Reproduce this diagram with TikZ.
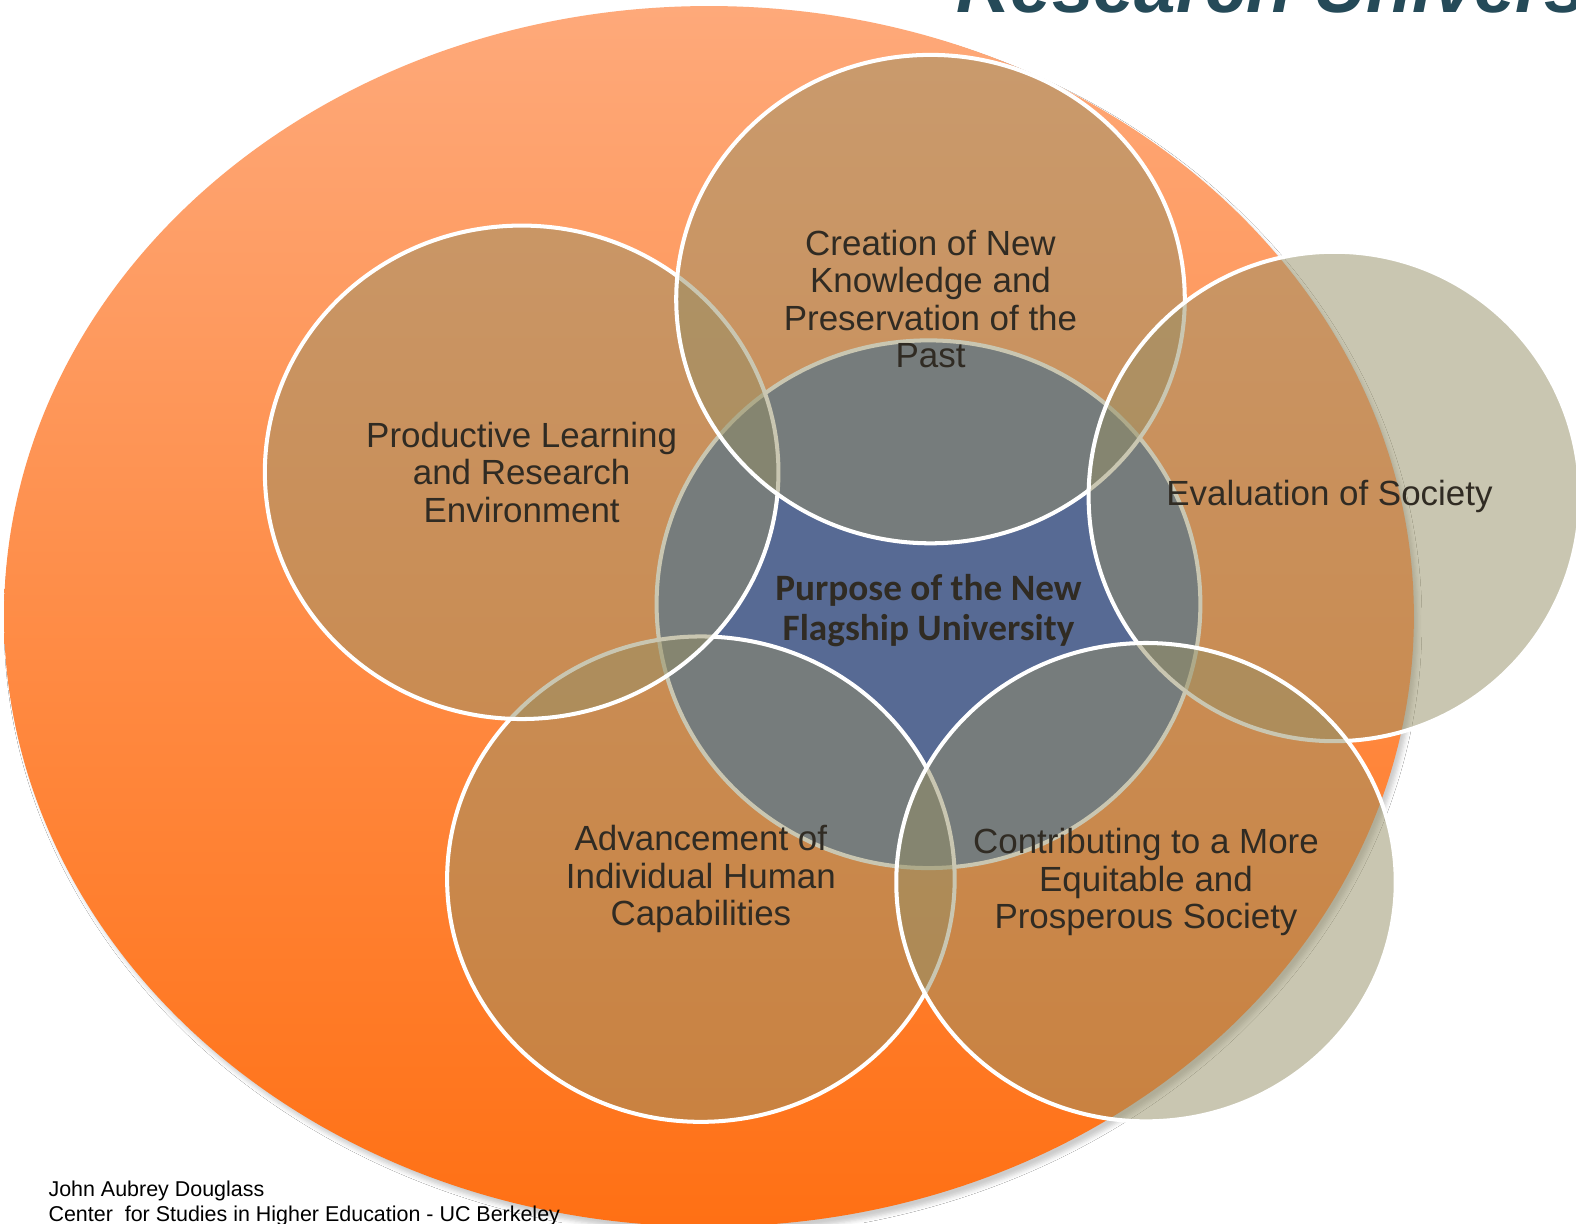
\documentclass[tikz,border=0pt]{standalone}
\usepackage{fontspec}
\setmainfont{Liberation Sans}
\newfontfamily\hubfont{Carlito}
\usepackage{xcolor}
\definecolor{orange-300}{RGB}{254,169,122}
\definecolor{orange-600}{RGB}{255,112,20}
\definecolor{tan-700}{RGB}{149,143,101}
\definecolor{blue-700}{RGB}{87,106,148}
\definecolor{ink-900}{RGB}{48,43,35}
\definecolor{teal-900}{RGB}{37,74,88}
\usetikzlibrary{shapes.geometric,shadows.blur}

\begin{document}
\begin{tikzpicture}[
    x=1bp, y=-1bp,
    backdrop/.style={
        ellipse,
        inner sep=0pt,
        top color=orange-300,
        bottom color=orange-600,
        blur shadow={shadow xshift=4bp, shadow yshift=-6bp, shadow blur radius=4bp, shadow opacity=20}
    },
    hub/.style={
        ellipse,
        draw=white,
        line width=4bp,
        fill=blue-700,
        inner sep=0pt,
        minimum width=540bp,
        minimum height=524bp
    },
    hub text/.style={
        font=\hubfont\bfseries\fontsize{37bp}{40bp}\selectfont,
        text=ink-900,
        align=center
    },
    petal/.style={
        ellipse,
        draw=white,
        line width=4bp,
        fill=tan-700,
        fill opacity=0.5,
        text opacity=1,
        inner sep=0pt,
        minimum width=504bp,
        minimum height=486bp,
        font=\fontsize{34.7bp}{37bp}\selectfont,
        text=ink-900,
        align=center
    },
    credit text/.style={font=\fontsize{21.3bp}{25bp}\selectfont, text=black, align=left, inner sep=0pt}
]
\useasboundingbox (0,0) rectangle (1565,1214.5);
\fill[white] (0,0) rectangle (1565,1214.5);

% === BACKGROUND ELLIPSE ===
\node[backdrop, minimum width=1400bp, minimum height=1212bp] (field) at (704,612) {};

% === TITLE (cut by the page edge) ===
\node[anchor=base west, inner sep=0pt, font=\bfseries\itshape\fontsize{74bp}{74bp}\selectfont, text=teal-900] (title) at (950,12) {Research Univers};

% === CENTRE ===
\node[hub] (purpose) at (922,600) {};
\node[hub text] (purpose text) at (922,606) {
    Purpose of the New\\
    Flagship University
};

% === PETALS, clockwise from bottom left ===
\node[petal, minimum width=504bp, minimum height=482bp] (capa) at (696,873) {
    Advancement of\\Individual Human\\Capabilities
};

\node[petal, minimum width=510bp, minimum height=490bp] (learn) at (518,469) {
    Productive Learning\\and Research\\Environment
};

\node[petal, minimum width=505bp, minimum height=485bp] (know) at (924,297) {
    Creation of New\\Knowledge and\\Preservation of the\\Past
};

\node[petal, minimum width=488bp, minimum height=486bp] (eval) at (1325,493) {
    Evaluation of Society
};

\node[petal, minimum width=496bp, minimum height=475bp] (equity) at (1138,876) {
    Contributing to a More\\Equitable and\\Prosperous Society
};

% === FOOTER ===
\node[credit text, anchor=north west] (credit) at (48,1172) {
    John Aubrey Douglass\\
    Center\ \ for Studies in Higher Education - UC Berkeley
};

\end{tikzpicture}
\end{document}
